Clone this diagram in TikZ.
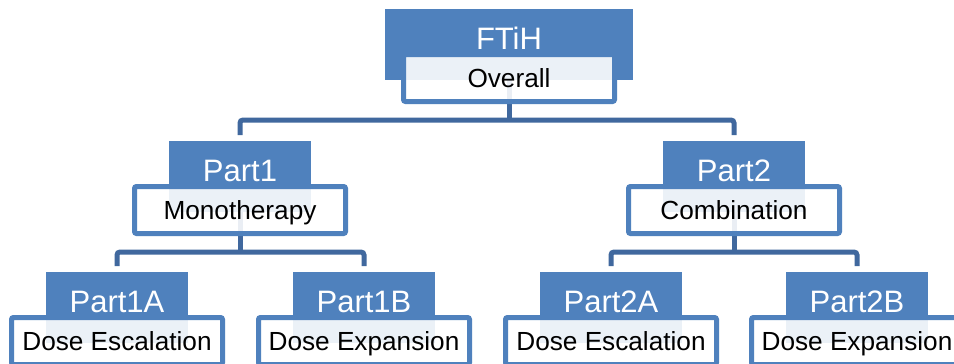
\documentclass[tikz,border=0pt]{standalone}
\usepackage{fontspec}
\setmainfont{Liberation Sans}
\usetikzlibrary{backgrounds}

\definecolor{accent}{RGB}{79,129,189}
\definecolor{linkc}{RGB}{64,104,158}

\tikzset{
  headbox/.style={fill=accent, draw=none, minimum width=142pt, minimum height=71pt,
                  inner sep=0pt, outer sep=0pt},
  subbox/.style={draw=accent, line width=5pt, fill=white, fill opacity=0.89,
                 draw opacity=1, rounded corners=2pt, minimum width=211pt,
                 minimum height=47pt, inner sep=0pt, outer sep=0pt},
  headtxt/.style={anchor=base, text=white, inner sep=0pt,
                  font=\fontsize{31}{34}\selectfont},
  subtxt/.style={anchor=base, text=black, inner sep=0pt,
                 font=\fontsize{26.2}{30}\selectfont},
  link/.style={draw=linkc, line width=5pt, rounded corners=3pt}
}

% #1 name, #2 centre x, #3 top y of the blue box, #4 blue width, #5 title, #6 subtitle
\newcommand{\orgunit}[6]{%
  \node[headbox, minimum width=#4pt] (#1) at ({#2},{#3+35.5}) {};
  \node[subbox] (#1s) at ({#2},{#3+69}) {};
  \node[headtxt] (#1t) at ({#2},{#3+40.5}) {#5};
  \node[subtxt] (#1u) at ({#2},{#3+78}) {#6};
}

\begin{document}
\begin{tikzpicture}[x=1pt, y=-1pt]
  \useasboundingbox (0,0) rectangle (954,364);
  \clip (0,0) rectangle (954,364);

  % boxes
  \orgunit{top}{509}{9}{248}{FTiH}{Overall}
  \orgunit{pa}{240}{141}{142}{Part1}{Monotherapy}
  \orgunit{pb}{734}{141}{142}{Part2}{Combination}
  \orgunit{pa1}{117}{272}{142}{Part1A}{Dose Escalation}
  \orgunit{pa2}{364}{272}{142}{Part1B}{Dose Expansion}
  \orgunit{pb1}{611}{272}{142}{Part2A}{Dose Escalation}
  \orgunit{pb2}{857}{272}{142}{Part2B}{Dose Expansion}

  % junction points of the tree
  \coordinate (j0) at (509,120);
  \coordinate (ja) at (240,252);
  \coordinate (jb) at (734,252);

  % connectors, behind the boxes
  \begin{scope}[on background layer]
    \fill[white] (0,0) rectangle (954,364);
    \draw[link] (top.center) -- (j0);
    \draw[link] ([yshift=6pt]pa.north) |- (j0) -| ([yshift=6pt]pb.north);
    \draw[link] (pa.center) -- (ja);
    \draw[link] ([yshift=6pt]pa1.north) |- (ja) -| ([yshift=6pt]pa2.north);
    \draw[link] (pb.center) -- (jb);
    \draw[link] ([yshift=6pt]pb1.north) |- (jb) -| ([yshift=6pt]pb2.north);
  \end{scope}
\end{tikzpicture}
\end{document}
